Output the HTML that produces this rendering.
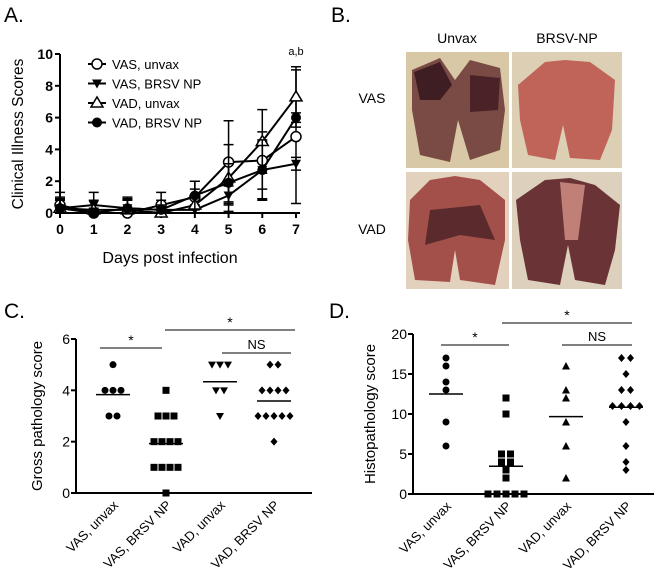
<!DOCTYPE html>
<html><head><meta charset="utf-8"><style>
html,body{margin:0;padding:0;background:#fff;}
svg{display:block;font-family:"Liberation Sans",Arial,sans-serif;}
</style></head><body>
<svg id="fig" width="656" height="584" viewBox="0 0 656 584">
<text x="4" y="22" font-size="21">A.</text>
<text x="331" y="22" font-size="21">B.</text>
<text x="4" y="318" font-size="21">C.</text>
<text x="329" y="318" font-size="21">D.</text>
<g id="A"></g>
<g id="B">
 <text x="457" y="43" font-size="14" text-anchor="middle">Unvax</text>
 <text x="567" y="43" font-size="14" text-anchor="middle">BRSV-NP</text>
 <text x="372" y="103" font-size="14" text-anchor="middle">VAS</text>
 <text x="372" y="234" font-size="14" text-anchor="middle">VAD</text>
 <g>
  <rect x="406" y="52" width="103" height="116" fill="#d8c8a6"/>
  <path d="M412 70 L440 58 L455 80 L470 60 L500 68 L505 110 L500 150 L470 160 L458 120 L450 162 L420 155 L412 110Z" fill="#7a4a44"/>
  <path d="M414 72 L440 62 L452 85 L440 100 L420 100Z" fill="#3e1e22"/>
  <path d="M470 75 L500 78 L498 110 L470 112Z" fill="#4a2228"/>
 </g>
 <g>
  <rect x="512" y="52" width="110" height="116" fill="#dccfb4"/>
  <path d="M518 85 L545 62 L565 60 L590 62 L615 80 L612 130 L600 160 L570 158 L563 125 L555 160 L528 155 L520 120Z" fill="#c0645a"/>
 </g>
 <g>
  <rect x="406" y="172" width="103" height="117" fill="#e2d2bd"/>
  <path d="M410 200 L430 180 L455 176 L480 180 L505 200 L505 240 L495 285 L460 280 L455 250 L450 282 L415 280 L408 240Z" fill="#a4504a"/>
  <path d="M430 210 L480 205 L495 240 L460 235 L425 245Z" fill="#5a2a2c"/>
 </g>
 <g>
  <rect x="512" y="172" width="110" height="117" fill="#ddd0bc"/>
  <path d="M516 200 L545 180 L570 178 L595 185 L620 205 L615 250 L605 285 L575 280 L568 245 L560 285 L528 280 L520 240Z" fill="#6a3436"/>
  <path d="M560 182 L585 185 L578 240 L565 240Z" fill="#c08078"/>
 </g>
</g>
<g id="C"></g>
<g id="D"></g>
</svg>
<script>
const NS="http://www.w3.org/2000/svg";
// Panel A data
const daysA=[0,1,2,3,4,5,6,7];
const seriesNamesA=["VAS, unvax","VAS, BRSV NP","VAD, unvax","VAD, BRSV NP"];
const vasUnvax=[0.5,0,0,0.5,1.0,3.2,3.3,4.8];
const vasBrsv=[0.3,0.5,0.3,0.2,0.2,1.1,2.7,3.1];
const vadUnvax=[0.3,0.2,0.2,0,0.5,2.2,4.5,7.3];
const vadBrsv=[0.3,0,0.3,0.2,1.1,1.9,2.7,6.0];
const vasUnvaxErr=[0.8,0,0,0.8,1.0,2.6,1.8,4.2];
const vasBrsvErr=[0.5,0.8,0.6,0.3,0.3,0.6,1.8,0.4];
const vadUnvaxErr=[0.7,0.6,0.6,0,1.0,2.1,2.0,1.9];
const vadBrsvErr=[0.6,0.3,0.7,0.6,0.9,1.2,1.9,0.3];
const yTicksA=[0,2,4,6,8,10];
// Panel C data
const groupsC=["VAS, unvax","VAS, BRSV NP","VAD, unvax","VAD, BRSV NP"];
const grossVasUnvax=[5,4,4,4,3,3];
const grossVasBrsv=[4,3,3,3,2,2,2,2,1,1,1,1,0];
const grossVadUnvax=[5,5,5,4,4,3];
const grossVadBrsv=[5,5,4,4,4,4,3,3,3,3,3,2];
const yTicksC=[0,2,4,6];
// Panel D data
const histoVasUnvax=[17,16,14,13,9,6];
const histoVasBrsv=[12,10,5,5,4,4,3,2,0,0,0,0,0];
const histoVadUnvax=[16,13,12,9,6,2];
const histoVadBrsv=[17,17,15,13,13,11,11,11,11,9,6,4,3];
const yTicksD=[0,5,10,15,20];

function el(parent,tag,attrs,text){const e=document.createElementNS(NS,tag);for(const k in attrs)e.setAttribute(k,attrs[k]);if(text!==undefined)e.textContent=text;parent.appendChild(e);return e;}

// ---- Panel A ----
(function(){
const g=document.getElementById('A');
const x0=60,x1=296,yb=213,yt=54;
const xs=d=>x0+(x1-x0)*d/7;
const ys=v=>yb-(yb-yt)*v/10;
let a=el(g,'line',{x1:x0,y1:yt,x2:x0,y2:yb,stroke:'#000','stroke-width':2});


a=el(g,'line',{x1:x0,y1:yb,x2:x1+4,y2:yb,stroke:'#000','stroke-width':2});


yTicksA.forEach(v=>{
 el(g,'line',{x1:x0-5,y1:ys(v),x2:x0,y2:ys(v),stroke:'#000','stroke-width':2});
 const t=el(g,'text',{x:x0-7,y:ys(v)+5,'font-size':14,'font-weight':'bold','text-anchor':'end'},v);
 
 
});
daysA.forEach(d=>{
 el(g,'line',{x1:xs(d),y1:yb,x2:xs(d),y2:yb+5,stroke:'#000','stroke-width':2});
 const t=el(g,'text',{x:xs(d),y:yb+21,'font-size':14,'font-weight':'bold','text-anchor':'middle'},d);
 
 
});
let t=el(g,'text',{x:170,y:263,'font-size':16,'text-anchor':'middle'},'Days post infection');


t=el(g,'text',{x:0,y:0,'font-size':15.5,'text-anchor':'middle',transform:'translate(23,134) rotate(-90)'},'Clinical Illness Scores');


t=el(g,'text',{x:xs(7),y:55,'font-size':11,'text-anchor':'middle'},'a,b');


const all=[[vasUnvax,vasUnvaxErr,'ocircle'],[vasBrsv,vasBrsvErr,'dtri'],[vadUnvax,vadUnvaxErr,'otri'],[vadBrsv,vadBrsvErr,'fcircle']];
function marker(p,type,x,y){
 if(type==='ocircle')return el(p,'circle',{cx:x,cy:y,r:5,fill:'#fff',stroke:'#000','stroke-width':1.5});
 if(type==='fcircle')return el(p,'circle',{cx:x,cy:y,r:5,fill:'#000'});
 if(type==='dtri')return el(p,'path',{d:`M${x-5} ${y-4}L${x+5} ${y-4}L${x} ${y+5}Z`,fill:'#000'});
 return el(p,'path',{d:`M${x-6} ${y+4}L${x+6} ${y+4}L${x} ${y-6}Z`,fill:'#fff',stroke:'#000','stroke-width':1.5});
}
all.forEach((s,i)=>{
 const sg=el(g,'g',{});
 
 
 s[0].forEach((v,j)=>{
  const e=s[1][j];
  if(e>0){
   const eb=el(sg,'path',{d:`M${xs(daysA[j])} ${ys(v+e)}V${ys(Math.max(0,v-e))}M${xs(daysA[j])-5} ${ys(v+e)}h10M${xs(daysA[j])-5} ${ys(Math.max(0,v-e))}h10`,stroke:'#000','stroke-width':1.5,fill:'none'});
   
   
  }
 });
 const ln=el(sg,'polyline',{points:s[0].map((v,j)=>xs(daysA[j])+','+ys(v)).join(' '),fill:'none',stroke:'#000','stroke-width':2});
 
 
 s[0].forEach((v,j)=>{
  const m=marker(sg,s[2],xs(daysA[j]),ys(v));
  
  
 });
 const ly=64+i*19.5;
 const lg=el(g,'g',{});
 
 
 el(lg,'line',{x1:88,y1:ly,x2:106,y2:ly,stroke:'#000','stroke-width':2});
 marker(lg,s[2],97,ly);
 el(lg,'text',{x:112,y:ly+5,'font-size':13},seriesNamesA[i]);
});
})();

// ---- dot plots ----
function dotPlot(id,opts){
 const g=document.getElementById(id);
 const {xa,xe,yb,yt,vmax,ticks,cats,data,shapes,title,titleX,sig}=opts;
 const ys=v=>yb-(yb-yt)*v/vmax;
 let a=el(g,'line',{x1:xa,y1:yt,x2:xa,y2:yb,stroke:'#000','stroke-width':2});
 
 
 a=el(g,'line',{x1:xa,y1:yb,x2:xe,y2:yb,stroke:'#000','stroke-width':2});
 
 
 ticks.forEach(v=>{
  el(g,'line',{x1:xa-5,y1:ys(v),x2:xa,y2:ys(v),stroke:'#000','stroke-width':2});
  const t=el(g,'text',{x:xa-6,y:ys(v)+5,'font-size':14,'text-anchor':'end'},v);
  
  
 });
 let t=el(g,'text',{x:0,y:0,'font-size':15,'text-anchor':'middle',transform:`translate(${titleX},${(yb+yt)/2}) rotate(-90)`},title);
 
 
 data.forEach((arr,i)=>{
  const cx=cats[i];
  const lab=el(g,'text',{x:0,y:0,'font-size':13,'text-anchor':'end',transform:`translate(${cx+6},${yb+13}) rotate(-45)`},groupsC[i]);
  
  
  const counts={};arr.forEach(v=>counts[v]=(counts[v]||0)+1);
  const seen={};
  const step=opts.spread;
  arr.forEach(v=>{
   const n=counts[v];const k=seen[v]||0;seen[v]=k+1;
   const x=cx+(k-(n-1)/2)*step, y=ys(v);
   let m;const s=shapes[i];
   if(s==='circle')m=el(g,'circle',{cx:x,cy:y,r:3.5,fill:'#000'});
   else if(s==='square')m=el(g,'rect',{x:x-3.5,y:y-3.5,width:7,height:7,fill:'#000'});
   else if(s==='dtri')m=el(g,'path',{d:`M${x-4} ${y-3}L${x+4} ${y-3}L${x} ${y+4}Z`,fill:'#000'});
   else if(s==='utri')m=el(g,'path',{d:`M${x-4} ${y+3.5}L${x+4} ${y+3.5}L${x} ${y-4}Z`,fill:'#000'});
   else m=el(g,'path',{d:`M${x} ${y-4}L${x+3.5} ${y}L${x} ${y+4}L${x-3.5} ${y}Z`,fill:'#000'});
   
   
  });
  const mean=arr.reduce((p,c)=>p+c,0)/arr.length;
  const ml=el(g,'line',{x1:cx-opts.halfW,y1:ys(mean),x2:cx+opts.halfW,y2:ys(mean),stroke:'#000','stroke-width':1.5});
  
  
 });
 sig.forEach(s=>{
  const l=el(g,'line',{x1:s[0],y1:s[2],x2:s[1],y2:s[2],stroke:'#000','stroke-width':1});
  
  
  const tt=el(g,'text',{x:(s[0]+s[1])/2,y:s[2]-(s[3]==='*'?3:4),'font-size':s[3]==='*'?14:13,'text-anchor':'middle'},s[3]);
  
  
 });
}
dotPlot('C',{xa:76,xe:312,yb:493,yt:339,vmax:6,ticks:yTicksC,cats:[113,166,220,274],
 data:[grossVasUnvax,grossVasBrsv,grossVadUnvax,grossVadBrsv],shapes:['circle','square','dtri','diamond'],
 title:'Gross pathology score',titleX:42,spread:8,halfW:17,
 sig:[[100,162,348,'*'],[165,295,330,'*'],[222,291,353,'NS']]});
dotPlot('D',{xa:413,xe:654,yb:494,yt:334,vmax:20,ticks:yTicksD,cats:[446,506,566,626],
 data:[histoVasUnvax,histoVasBrsv,histoVadUnvax,histoVadBrsv],shapes:['circle','square','utri','diamond'],
 title:'Histopathology score',titleX:375,spread:9,halfW:17,
 sig:[[441,509,345,'*'],[502,632,323,'*'],[562,632,345,'NS']]});
</script>
</body></html>
